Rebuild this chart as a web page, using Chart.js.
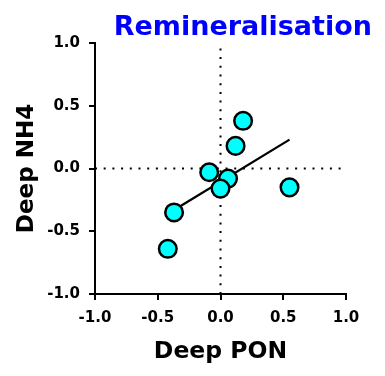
<!DOCTYPE html>
<html>
<head>
<meta charset="utf-8">
<script src="https://cdn.jsdelivr.net/npm/chart.js@4/dist/chart.umd.min.js"></script>
<style>
  html, body { margin: 0; padding: 0; background: #fff; }
  #wrap { width: 385px; height: 376px; }
</style>
</head>
<body>
<div id="wrap"><canvas id="chart" width="385" height="376"></canvas></div>
<script>
  // values
  const ponX = [0.18, 0.12, -0.09, 0.06, 0.00, 0.55, -0.37, -0.42];
  const nh4Y = [0.38, 0.18, -0.03, -0.08, -0.16, -0.15, -0.35, -0.64];
  const fitX = [-0.37, 0.55];
  const fitY = [-0.33, 0.23];
  const axisMin = -1;
  const axisMax = 1;
  const tickStep = 0.5;

  const toPoints = (xs, ys) => xs.map((x, i) => ({ x: x, y: ys[i] }));

  Chart.defaults.font.family = "'DejaVu Sans', sans-serif";
  Chart.defaults.color = '#000';

  const dotted = {
    type: 'line',
    showLine: true,
    borderColor: '#000',
    borderWidth: 2,
    borderDash: [2, 6.7],
    pointRadius: 0,
    fill: false
  };

  new Chart(document.getElementById('chart'), {
    type: 'scatter',
    data: {
      datasets: [
        {
          label: 'stations',
          data: toPoints(ponX, nh4Y),
          backgroundColor: '#00ffff',
          borderColor: '#000',
          borderWidth: 2.5,
          pointRadius: 8.8
        },
        {
          type: 'line',
          label: 'fit',
          data: toPoints(fitX, fitY),
          showLine: true,
          borderColor: '#000',
          borderWidth: 2.3,
          pointRadius: 0,
          fill: false
        },
        Object.assign({ label: 'x0', data: toPoints([0, 0], [axisMin, axisMax]) }, dotted),
        Object.assign({ label: 'y0', data: toPoints([axisMin, axisMax], [0, 0]) }, dotted)
      ]
    },
    options: {
      responsive: false,
      animation: false,
      layout: { padding: { left: 0, right: 13, top: 0, bottom: 0 } },
      plugins: {
        legend: { display: false },
        tooltip: { enabled: false },
        title: {
          display: true,
          text: 'Remineralisation',
          color: '#0000ff',
          align: 'end',
          font: { size: 27, weight: 'bold', lineHeight: 1 },
          padding: { top: 14.5, bottom: 1.5 }
        }
      },
      scales: {
        x: {
          type: 'linear',
          min: axisMin,
          max: axisMax,
          afterFit: (s) => { s.height = 82; },
          ticks: {
            stepSize: tickStep,
            padding: 9,
            font: { family: "'DejaVu Sans', sans-serif", size: 15, weight: 'bold' },
            callback: (v) => v.toFixed(1)
          },
          grid: { drawOnChartArea: false, drawTicks: true, tickLength: 6, color: '#000', lineWidth: 2 },
          border: { display: true, color: '#000', width: 2 },
          title: {
            display: true,
            text: 'Deep PON',
            font: { size: 23.5, weight: 'bold' },
            padding: { top: 0, bottom: 10 }
          }
        },
        y: {
          type: 'linear',
          min: axisMin,
          max: axisMax,
          afterFit: (s) => { s.width = 95; },
          ticks: {
            stepSize: tickStep,
            padding: 9,
            font: { family: "'DejaVu Sans', sans-serif", size: 15, weight: 'bold' },
            callback: (v) => v.toFixed(1)
          },
          grid: { drawOnChartArea: false, drawTicks: true, tickLength: 6, color: '#000', lineWidth: 2 },
          border: { display: true, color: '#000', width: 2 },
          title: {
            display: true,
            text: 'Deep NH4',
            font: { size: 23, weight: 'bold' },
            padding: { top: 13, bottom: 0 }
          }
        },
        // empty right-hand strip so the plot ends where the original's does
        yRight: {
          type: 'linear',
          position: 'right',
          afterFit: (s) => { s.width = 26; },
          ticks: { display: false },
          grid: { display: false },
          border: { display: false }
        }
      }
    }
  });
</script>
</body>
</html>
